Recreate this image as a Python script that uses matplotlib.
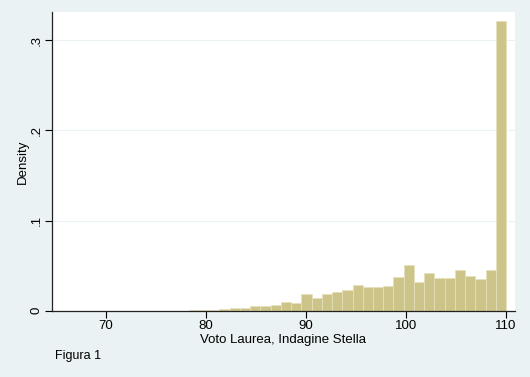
import matplotlib
matplotlib.use("Agg")
import matplotlib.pyplot as plt
import numpy as np

plt.rcParams['font.family'] = ['Liberation Sans', 'DejaVu Sans']

BG = "#EAF2F3"
BAR = "#CDC48A"
BAR_EDGE = "#E6E1BE"

# histogram: 43 bins from 66 to 110 (Stata default), density values
bin_start = 66
bin_end = 110
density = [0.0002, 0, 0, 0.0002, 0, 0, 0, 0.0002, 0, 0, 0, 0.0002, 0.0003,
           0.0007, 0.0010, 0.0015, 0.0026, 0.0033, 0.0052, 0.0048, 0.0063, 0.0098, 0.0087,
           0.0180, 0.0144, 0.0180, 0.0208, 0.0230, 0.0285, 0.0260, 0.0265, 0.0278, 0.0378,
           0.0510, 0.0315, 0.0420, 0.0360, 0.0360, 0.0455, 0.0390, 0.0355, 0.0448,
           0.3210]
xticks = [70, 80, 90, 100, 110]
yticks = [0, 0.1, 0.2, 0.3]
ytick_labels = ["0", ".1", ".2", ".3"]

n = len(density)
w = (bin_end - bin_start) / n
lefts = bin_start + w * np.arange(n)

fig = plt.figure(figsize=(5.3, 3.77), dpi=100)
fig.patch.set_facecolor(BG)
ax = fig.add_axes([52 / 530, 1 - 310.7 / 377, (515 - 52) / 530, (310.7 - 12) / 377])
ax.set_facecolor("white")

ax.bar(lefts, density, width=w, align="edge", color=BAR, edgecolor=BAR_EDGE, linewidth=0.5, zorder=2)

ax.set_xlim(64.6, 110.9)
ax.set_ylim(0, 0.3314)
ax.set_xticks(xticks)
ax.set_yticks(yticks)
ax.set_yticklabels(ytick_labels, rotation=90, va="center")
ax.tick_params(axis="both", direction="out", length=5, width=0.8, colors="#000000",
               labelsize=9.5, pad=2)
ax.grid(axis="y", color=BG, linewidth=0.8, zorder=0)
ax.set_axisbelow(True)

for s in ["top", "right"]:
    ax.spines[s].set_visible(False)
for s in ["left", "bottom"]:
    ax.spines[s].set_color("#222222")
    ax.spines[s].set_linewidth(0.9)

ax.set_xlabel("Voto Laurea, Indagine Stella", fontsize=9.5, labelpad=1)
ax.set_ylabel("Density", fontsize=9.5, labelpad=1)

fig.text(55 / 530, 1 - 356 / 377, "Figura 1", fontsize=9, ha="left", va="center")

fig.savefig("out.png", dpi=100, facecolor=BG)
